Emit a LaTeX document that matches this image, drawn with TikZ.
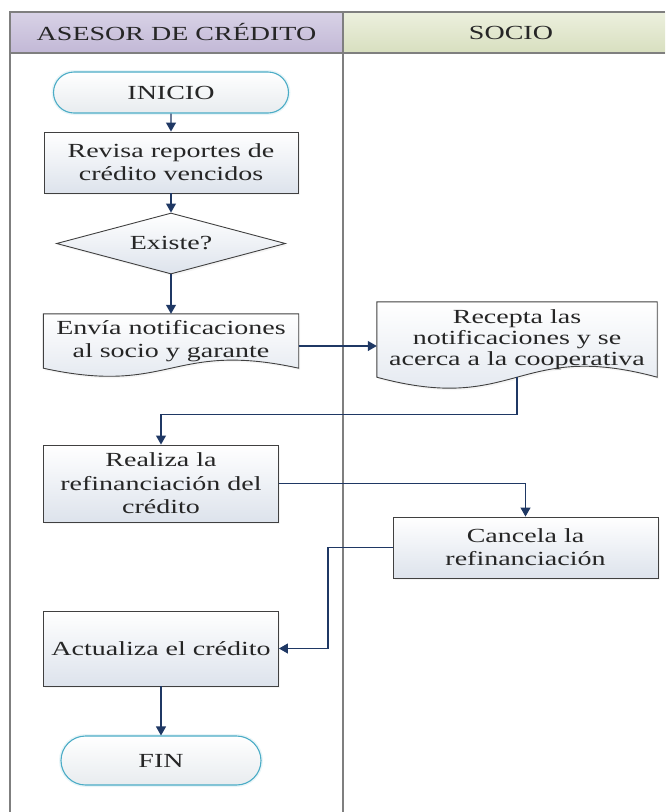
\documentclass[tikz,border=0pt]{standalone}
\usepackage{fontspec}
\setmainfont{Liberation Serif}[FakeStretch=1.4]
\usetikzlibrary{arrows.meta,shapes.geometric,shapes.misc,shadows}

\definecolor{navy}{HTML}{1F3864}
\definecolor{boxline}{HTML}{404040}
\definecolor{boxbot}{HTML}{DDE3EC}
\definecolor{termline}{HTML}{4BACC6}
\definecolor{termbot}{HTML}{E8ECEF}
\definecolor{lavtop}{HTML}{D8D2E6}
\definecolor{lavbot}{HTML}{C2B8D6}
\definecolor{olvtop}{HTML}{ECF0DE}
\definecolor{olvbot}{HTML}{D8DFBF}
\definecolor{framegray}{HTML}{7F7F7F}
\definecolor{ink}{HTML}{262626}

\pgfdeclarelayer{shapes}
\pgfsetlayers{shapes,main}

% document symbol: straight top and sides, S-shaped wavy bottom edge
\newcommand{\wavedoc}[3]{%
  \begin{pgfonlayer}{shapes}
    \path[docshape] (#1.south west) .. controls +(#2,#3) and +(-#2,-#3) .. (#1.south east)
      -- (#1.north east) -- (#1.north west) -- cycle;
  \end{pgfonlayer}}

\tikzset{
  every node/.style={text=ink, font=\fontsize{20}{23}\selectfont},
  softshadow/.style={drop shadow={shadow xshift=1.5pt, shadow yshift=-2pt, opacity=.08, fill=gray}},
  procbox/.style={draw=boxline, line width=0.9pt, top color=white, bottom color=boxbot,
    align=center, inner sep=0pt, softshadow},
  docbody/.style={align=center, inner sep=0pt},
  docshape/.style={draw=boxline, line width=0.9pt, top color=white, bottom color=boxbot, softshadow},
  decision/.style={diamond, draw=boxline, line width=0.9pt, top color=white, bottom color=boxbot,
    aspect=3.75, inner sep=0pt, softshadow},
  terminal/.style={rounded rectangle, draw=termline, line width=1.1pt, top color=white,
    bottom color=termbot, inner sep=0pt,
    preaction={draw=termline!40, line width=4pt, opacity=.3}},
  lane/.style={draw=framegray, line width=1.4pt},
  flow/.style={draw=navy, line width=1.1pt, -{Triangle[length=9pt,width=10pt]}},
}

\begin{document}
\begin{tikzpicture}[x=1pt,y=-1pt]
\useasboundingbox (0,0) rectangle (665,812);

% swimlane headers
\shade[top color=lavtop, bottom color=lavbot] (10,12) rectangle (343,53);
\shade[top color=olvtop, bottom color=olvbot] (343,12) rectangle (665,53);
\draw[lane] (665,12) -- (10,12) -- (10,812);
\draw[lane] (10,53) -- (665,53);
\draw[lane] (343,12) -- (343,812);
\node (hdrA) at (176.5,32.5) {ASESOR DE CRÉDITO};
\node (hdrS) at (511,32.5) {SOCIO};

% flow steps
\node[terminal, minimum width=235pt, minimum height=41pt] (inicio) at (171,92.5) {INICIO};
\node[procbox, minimum width=254pt, minimum height=61pt] (revisa) at (171,162.5)
  {Revisa reportes de\\crédito vencidos};
\node[decision, minimum width=229pt, minimum height=61pt] (existe) at (171,243.5) {Existe?};
\node[docbody, minimum width=255pt, minimum height=54pt] (envia) at (171,341)
  {Envía notificaciones\\al socio y garante};
\wavedoc{envia}{127.5}{28}
\node[docbody, minimum width=280pt, minimum height=75pt,
      font=\fontsize{20}{21}\selectfont] (recepta) at (517,339.5)
  {Recepta las\\notificaciones y se\\acerca a la cooperativa};
\wavedoc{recepta}{140}{38}
\node[procbox, minimum width=235pt, minimum height=77pt,
      font=\fontsize{20}{23.5}\selectfont] (realiza) at (161,483.5)
  {Realiza la\\refinanciación del\\crédito};
\node[procbox, minimum width=265pt, minimum height=61pt] (cancela) at (525.5,547.5)
  {Cancela la\\refinanciación};
\node[procbox, minimum width=235pt, minimum height=75pt] (actualiza) at (161,648.5)
  {Actualiza el crédito};
\node[terminal, minimum width=200pt, minimum height=49pt] (fin) at (161,760.5) {FIN};

% connectors
\coordinate (cbend) at (328,547.5);
\draw[flow] (inicio) -- (revisa);
\draw[flow] (revisa) -- (existe);
\draw[flow] (existe) -- (envia);
\draw[flow] ([yshift=-5pt]envia.east) -- ([yshift=-5pt]envia.east -| recepta.west);
\draw[flow] (recepta.south) -- ++(0,37) -| (realiza.north);
\draw[flow] (realiza.east) -| (cancela.north);
\draw[flow] (cancela.west) -- (cbend) |- (actualiza.east);
\draw[flow] (actualiza) -- (fin);
\end{tikzpicture}
\end{document}
